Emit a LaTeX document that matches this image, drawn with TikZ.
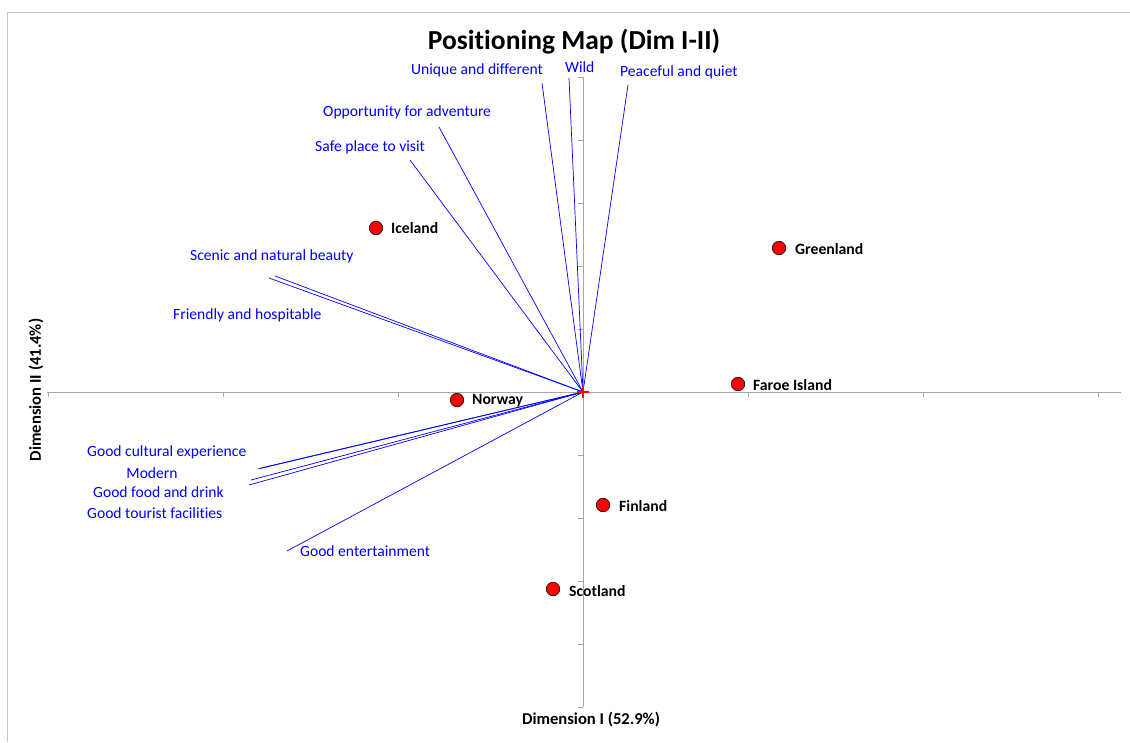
\documentclass[tikz,border=0pt]{standalone}
\usepackage{fontspec}
\setmainfont{Carlito}[Ligatures=NoCommon]
\usepackage{tikz}
\definecolor{attrblue}{rgb}{0.0, 0.0, 1.0}
\definecolor{axisgray}{rgb}{0.65, 0.65, 0.65}
\definecolor{framegray}{rgb}{0.78, 0.78, 0.78}
\tikzset{
  attr/.style={text=attrblue, anchor=west, inner sep=0pt, font=\fontsize{15.6}{18}\selectfont},
  vec/.style={draw=attrblue, line width=0.7pt},
  country/.style={circle, draw=black, fill=red, line width=0.6pt, minimum size=13.5pt, inner sep=0pt},
  cname/.style={anchor=west, inner sep=0pt, font=\bfseries\fontsize{15.7}{18}\selectfont},
  axislbl/.style={inner sep=0pt, font=\bfseries\fontsize{16.6}{19}\selectfont},
  axisline/.style={draw=axisgray, line width=1pt}
}

\begin{document}
\begin{tikzpicture}[x=1pt, y=-1pt]
		\useasboundingbox (0,0) rectangle (1130,742);
		% Frame
		\draw[framegray, line width=1pt] (7,742) -- (7,12) -- (1130,12);
		
		% Axes
		\coordinate (o) at (583,392);
		\coordinate (xl) at (47,392);
		\coordinate (xr) at (1121,392);
		\coordinate (yt) at (583,77);
		\coordinate (yb) at (583,707);
		\draw[axisline] (xl) -- (xr);
		\draw[axisline] (yt) -- (yb);
		\foreach \tx in {48,223,398,573,748,923,1098}
			\draw[axisline] (\tx,392) -- (\tx,397);
		\foreach \ty in {77,140,203,266,329,455,518,581,644,707}
			\draw[axisline] (583,\ty) -- (578,\ty);
		
		% Attribute vectors
		\coordinate (uniq) at (542,83);
		\coordinate (wild) at (569,78);
		\coordinate (peace) at (628,85);
		\coordinate (adv) at (439,127);
		\coordinate (safe) at (410,160);
		\coordinate (scenic) at (275,276);
		\coordinate (friend) at (269,278);
		\coordinate (cult) at (258,469);
		\coordinate (tour) at (261,468);
		\coordinate (modern) at (251,480);
		\coordinate (food) at (249,485);
		\coordinate (ent) at (287,551);
		\draw[vec] (o) -- (uniq);
		\draw[vec] (o) -- (wild);
		\draw[vec] (o) -- (peace);
		\draw[vec] (o) -- (adv);
		\draw[vec] (o) -- (safe);
		\draw[vec] (o) -- (scenic);
		\draw[vec] (o) -- (friend);
		\draw[vec] (o) -- (cult);
		\draw[vec] (o) -- (tour);
		\draw[vec] (o) -- (modern);
		\draw[vec] (o) -- (food);
		\draw[vec] (o) -- (ent);
		\draw[red, line width=1.2pt] (577,392) -- (589,392) (583,386) -- (583,398);
		
		% Attribute labels
		\node[attr] (uniqlbl) at (411,70) {Unique and different};
		\node[attr] (wildlbl) at (565,67) {Wild};
		\node[attr] (peacelbl) at (620,72) {Peaceful and quiet};
		\node[attr] (advlbl) at (323,112) {Opportunity for adventure};
		\node[attr] (safelbl) at (315,147) {Safe place to visit};
		\node[attr] (sceniclbl) at (190,256) {Scenic and natural beauty};
		\node[attr] (friendlbl) at (173,315) {Friendly and hospitable};
		\node[attr] (cultlbl) at (87,452) {Good cultural experience};
		\node[attr, anchor=center] (modernlbl) at (152,473) {Modern};
		\node[attr] (foodlbl) at (93,492) {Good food and drink};
		\node[attr] (tourlbl) at (87,513) {Good tourist facilities};
		\node[attr] (entlbl) at (300,551) {Good entertainment};
		
		% Countries
		\node[country] (iceland) at (376,228) {};
		\node[country] (greenland) at (779,248) {};
		\node[country] (faroe) at (738,384) {};
		\node[country] (norway) at (457,400) {};
		\node[country] (finland) at (603,505) {};
		\node[country] (scotland) at (553,589) {};
		\node[cname] (icelandlbl) at (391,228) {Iceland};
		\node[cname] (greenlandlbl) at (795,249) {Greenland};
		\node[cname] (faroelbl) at (753,385) {Faroe Island};
		\node[cname] (norwaylbl) at (472,401) {Norway};
		\node[cname] (finlandlbl) at (619,506) {Finland};
		\node[cname] (scotlandlbl) at (569,591) {Scotland};
		
		% Titles
		\node[inner sep=0pt, font=\bfseries\fontsize{27.5}{31}\selectfont] (title) at (574,42) {Positioning Map (Dim I-II)};
		\node[axislbl] (xlabel) at (591,720) {Dimension I (52.9\%)};
		\node[axislbl, rotate=90] (ylabel) at (36,390) {Dimension II (41.4\%)};
	\end{tikzpicture}
\end{document}
